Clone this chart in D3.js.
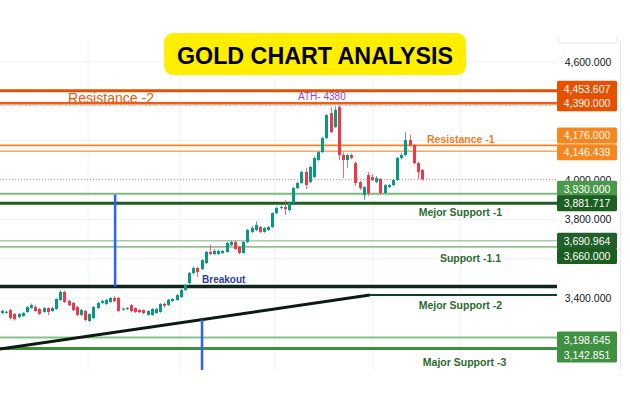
<!DOCTYPE html>
<html><head><meta charset="utf-8">
<script src="https://cdn.jsdelivr.net/npm/d3@7"></script>
<style>html,body{margin:0;padding:0;background:#fff;} svg{display:block;}</style>
</head><body><svg id="c" width="630" height="400"></svg>
<script>
// ---------- DATA ----------
const opens = [3324,3326,3339,3319,3303,3308,3329,3349,3354,3344,
  3329,3349,3334,3344,3390,3431,3385,3375,3354,3314,
  3334,3283,3298,3349,3375,3370,3380,3400,3400,3342,
  3344,3364,3349,3339,3339,3314,3314,3324,3329,3370,
  3364,3385,3390,3405,3441,3476,3527,3553,3547,3578,
  3634,3624,3624,3629,3634,3670,3685,3660,3629,3685,
  3736,3746,3761,3736,3746,3761,3832,3858,3863,3847,
  3883,3959,3985,4041,3990,4015,4102,4142,4213,4340,
  4269,4371,4127,4102,4127,4086,3990,3924,4025,4015,
  3990,4005,3934,3964,3974,4000,4112,4127,4203,4178,
  4086,4051];
const closes = [3334,3330,3298,3293,3319,3324,3354,3364,3334,3319,
  3349,3329,3349,3395,3431,3380,3364,3339,3314,3339,
  3288,3319,3354,3375,3385,3390,3400,3385,3334,3346,
  3349,3334,3329,3329,3324,3334,3344,3344,3370,3360,
  3390,3395,3415,3441,3466,3527,3553,3532,3593,3634,
  3624,3639,3639,3639,3680,3685,3649,3629,3685,3746,
  3756,3771,3736,3756,3761,3832,3858,3863,3852,3883,
  3959,3985,4041,3975,4066,4112,4142,4213,4330,4244,
  4356,4127,4102,4127,4112,3985,3959,3964,3934,4000,
  4010,3934,3974,3974,4000,4112,4127,4203,4178,4086,
  4041,4003];
const highs = [3340,3336,3345,3322,3324,3328,3360,3372,3366,3350,
  3354,3352,3355,3398,3440,3438,3392,3380,3360,3345,
  3340,3322,3360,3382,3392,3396,3405,3410,3405,3352,
  3355,3370,3352,3344,3342,3338,3350,3350,3375,3378,
  3395,3400,3420,3446,3472,3532,3560,3558,3598,3640,
  3670,3650,3645,3645,3686,3692,3692,3665,3690,3752,
  3766,3790,3766,3762,3766,3836,3864,3870,3900,3890,
  3965,3992,4048,4060,4072,4120,4148,4220,4335,4370,
  4375,4380,4140,4135,4135,4095,3995,3970,4040,4030,
  4020,4010,3980,3980,4005,4118,4140,4244,4230,4185,
  4095,4055];
const lows = [3318,3320,3292,3285,3298,3304,3325,3345,3330,3314,
  3325,3312,3330,3340,3386,3375,3358,3334,3308,3308,
  3282,3278,3294,3345,3370,3365,3376,3380,3330,3336,
  3340,3328,3324,3322,3318,3310,3310,3320,3325,3352,
  3360,3380,3386,3400,3436,3470,3520,3507,3542,3573,
  3620,3618,3620,3625,3630,3665,3645,3622,3625,3680,
  3730,3740,3730,3732,3740,3755,3826,3850,3822,3840,
  3878,3954,3980,3955,3985,4010,4098,4138,4208,4239,
  4264,4100,4010,4060,4105,3970,3950,3898,3920,3995,
  3985,3930,3930,3958,3970,3995,4105,4122,4170,4080,
  4005,3998];

const levelPrices = [4453.607, 4390, 4176, 4146.439, 3930, 3881.717, 3690.964, 3660, 3198.645, 3142.851];
const axisTicks = [3200, 3400, 3600, 3800, 4000, 4200, 4400, 4600];
const athPrice = 4380;
const breakoutPrice = 3458;
const trendStart = {i: -0.48, p: 3141};
const trendEnd = {i: 88.46, p: 3415};
const timeGridIdx = [20.7, 42.8, 65.6, 89.2, 110.3];
const breakoutMarkIdx = [27.2, 48.1];
const breakoutMarkTop = 3926;

const annotationTexts = ["Resistance -2", "ATH- 4380", "Resistance -1", "Mejor Support -1",
  "Support -1.1", "Breakout", "Mejor Support -2", "Major Support -3"];
const annotationAnchors = [[15.9, 4393], [71.2, 4406], [102.2, 4188], [100.2, 3817],
  [105.3, 3583], [48.1, 3476], [100.2, 3344], [101.2, 3054]];
const titleText = "GOLD CHART ANALYSIS";

// ---------- STYLES ----------
const lineColors = ["#e65100", "#ec5f16", "#f5841f", "#f8a866", "#7dbb7d", "#1b5e20", "#a9cba9", "#93c193", "#86c286", "#3d8f3f"];
const lineWidths = [3, 2.5, 1.6, 1.6, 2, 3, 1.6, 1.6, 2, 3];
const boxColors = ["#e65100", "#e65100", "#f7861c", "#f7861c", "#4b9a4c", "#1b5e20", "#21602a", "#1b5e20", "#3f9142", "#3f9142"];
const labelNudge = [-2, 0, -10, 1, -5, 0, 0, 9, 2, 6];
const annStyles = [
  {c: "#e8590c", s: 14, w: "normal", len: 86},
  {c: "#9b3fc4", s: 10, w: "normal"},
  {c: "#f47a1f", s: 10.5, w: "bold"},
  {c: "#2a6b2e", s: 10.5, w: "bold"},
  {c: "#2a6b2e", s: 10.5, w: "bold"},
  {c: "#2f3e9e", s: 10, w: "bold"},
  {c: "#2a6b2e", s: 10.5, w: "bold"},
  {c: "#2a6b2e", s: 10.5, w: "bold"}
];
const UP = "#089981", DOWN = "#f23645";

// ---------- LAYOUT ----------
const plotRight = 557, axisRight = 620, plotTop = 40, plotBottom = 370;
const svg = d3.select("#c");
const n = opens.length;
const x = d3.scaleLinear().domain([0, n - 1]).range([2, 422]);
const y = d3.scaleLinear().domain([3034, 4712]).range([plotBottom, plotTop]);
const font = "'Liberation Sans', Arial, sans-serif";

// grid
svg.append("g").selectAll("line").data(axisTicks).join("line")
  .attr("x1", 0).attr("x2", plotRight).attr("y1", d => y(d)).attr("y2", d => y(d))
  .attr("stroke", "#f0f1f4").attr("stroke-width", 1);
svg.append("g").selectAll("line").data(timeGridIdx).join("line")
  .attr("x1", d => x(d)).attr("x2", d => x(d)).attr("y1", plotTop).attr("y2", plotBottom)
  .attr("stroke", "#f0f1f4").attr("stroke-width", 1);
// axis border
svg.append("line").attr("x1", axisRight + 0.5).attr("x2", axisRight + 0.5).attr("y1", plotTop).attr("y2", plotBottom)
  .attr("stroke", "#e6e8ee");
svg.append("path").attr("d", `M558,37V41Q558,43 560,43H615Q617,43 617,41V37`).attr("fill", "none").attr("stroke", "#e3e5ea");

// dotted lines
svg.append("line").attr("x1", 0).attr("x2", plotRight).attr("y1", y(athPrice)).attr("y2", y(athPrice))
  .attr("stroke", "#a9abb3").attr("stroke-dasharray", "1,1.5").attr("stroke-width", 1);
svg.append("line").attr("x1", 0).attr("x2", plotRight).attr("y1", y(closes[n - 1])).attr("y2", y(closes[n - 1]))
  .attr("stroke", "#f47c86").attr("stroke-dasharray", "1,2").attr("stroke-width", 1);

// level lines
svg.append("g").selectAll("line").data(levelPrices).join("line")
  .attr("x1", 0).attr("x2", plotRight).attr("y1", d => y(d)).attr("y2", d => y(d))
  .attr("stroke", (d, i) => lineColors[i]).attr("stroke-width", (d, i) => lineWidths[i]);

// breakout horizontal & trend line
svg.append("line").attr("x1", 0).attr("x2", plotRight).attr("y1", y(breakoutPrice)).attr("y2", y(breakoutPrice))
  .attr("stroke", "#10261c").attr("stroke-width", 3.5);
svg.append("line").attr("x1", x(trendStart.i)).attr("x2", x(trendEnd.i)).attr("y1", y(trendStart.p)).attr("y2", y(trendEnd.p))
  .attr("stroke", "#0d1a14").attr("stroke-width", 3);
svg.append("line").attr("x1", x(trendEnd.i)).attr("x2", plotRight).attr("y1", y(trendEnd.p)).attr("y2", y(trendEnd.p))
  .attr("stroke", "#143b2b").attr("stroke-width", 2);

// candles
const idx = d3.range(n);
const cg = svg.append("g");
cg.selectAll("line").data(idx).join("line")
  .attr("x1", i => Math.round(x(i)) + 0.5).attr("x2", i => Math.round(x(i)) + 0.5)
  .attr("y1", i => y(highs[i])).attr("y2", i => y(lows[i]))
  .attr("stroke", i => closes[i] >= opens[i] ? UP : DOWN).attr("stroke-opacity", 0.75).attr("stroke-width", 1);
cg.selectAll("rect").data(idx).join("rect")
  .attr("x", i => Math.round(x(i)) - 1).attr("width", 3)
  .attr("y", i => y(Math.max(opens[i], closes[i])))
  .attr("height", i => Math.max(1, Math.abs(y(opens[i]) - y(closes[i]))))
  .attr("fill", i => closes[i] >= opens[i] ? UP : DOWN);

// blue marker lines
const trendAt = i => trendStart.p + (i - trendStart.i) / (trendEnd.i - trendStart.i) * (trendEnd.p - trendStart.p);
svg.append("line").attr("x1", x(breakoutMarkIdx[0])).attr("x2", x(breakoutMarkIdx[0]))
  .attr("y1", y(breakoutMarkTop)).attr("y2", y(breakoutPrice)).attr("stroke", "#2962ff").attr("stroke-width", 2.5);
svg.append("line").attr("x1", x(breakoutMarkIdx[1])).attr("x2", x(breakoutMarkIdx[1]))
  .attr("y1", y(trendAt(breakoutMarkIdx[1]))).attr("y2", plotBottom).attr("stroke", "#2962ff").attr("stroke-width", 2.5);

// annotations
const ann = svg.append("g").selectAll("text").data(annotationTexts).join("text")
  .attr("x", (d, i) => x(annotationAnchors[i][0])).attr("y", (d, i) => y(annotationAnchors[i][1]))
  .attr("font-family", font).attr("font-size", (d, i) => annStyles[i].s).attr("font-weight", (d, i) => annStyles[i].w)
  .attr("fill", (d, i) => annStyles[i].c).text(d => d);
ann.filter((d, i) => annStyles[i].len).attr("textLength", (d, i) => annStyles[annotationTexts.indexOf(d)].len)
  .attr("lengthAdjust", "spacingAndGlyphs");

// price label box positions
const boxY = levelPrices.map((d, i) => y(d) + labelNudge[i]);

// axis tick labels (hidden where a price box covers them)
const fmt = d3.format(",.3f");
const visibleTicks = axisTicks.filter(t => boxY.every(b => Math.abs(b - y(t)) >= 8));
svg.append("g").selectAll("text").data(visibleTicks).join("text")
  .attr("x", 588).attr("y", d => y(d) + 4).attr("text-anchor", "middle")
  .attr("font-family", font).attr("font-size", 10.5).attr("fill", "#131722").text(d => fmt(d));

// price label boxes
const bg = svg.append("g").selectAll("g").data(levelPrices).join("g")
  .attr("transform", (d, i) => `translate(557,${boxY[i]})`);
bg.append("rect").attr("x", 0).attr("y", -8).attr("width", 60).attr("height", 16).attr("rx", 1.5)
  .attr("fill", (d, i) => boxColors[i]);
bg.append("text").attr("x", 30).attr("y", 4).attr("text-anchor", "middle").attr("font-family", font)
  .attr("font-size", 10.5).attr("fill", "#fff").text(d => fmt(d));

// title
svg.append("rect").attr("x", 164).attr("y", 33).attr("width", 302).attr("height", 42).attr("rx", 9).attr("fill", "#ffee00");
svg.append("text").attr("x", 315).attr("y", 63.5).attr("text-anchor", "middle")
  .attr("font-family", font).attr("font-weight", "bold").attr("font-size", 24)
  .attr("textLength", 276).attr("lengthAdjust", "spacingAndGlyphs").attr("fill", "#000").text(titleText);
</script>
</body></html>
